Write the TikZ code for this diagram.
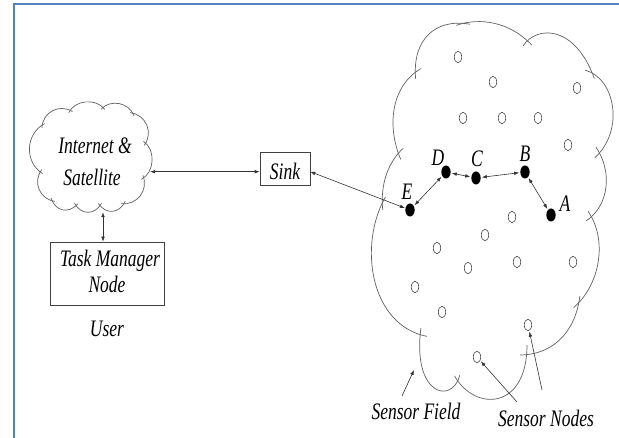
\documentclass[tikz,border=0pt]{standalone}
\usepackage{fontspec}
\setmainfont{Liberation Serif}
\usepackage{graphicx}
\usetikzlibrary{arrows.meta,shapes.geometric,calc}
\definecolor{framec}{RGB}{79,129,189}
% tall, narrow lettering
\newcommand\tallt[1]{\scalebox{1}[1.35]{#1}}
% one puff of a scalloped cloud, from #1 to #2, bulge factor #3
\newcommand\puff[3]{\draw[cloudline,shorten <=-3pt,shorten >=-3pt] (#1) .. controls ($(#1)!#3!60:(#2)$) and ($(#2)!#3!-60:(#1)$) .. (#2);}
% one arc of the sensor field outline
\newcommand\fieldarc[4]{\draw[cloudline,shorten <=-7pt,shorten >=-7pt] #1 .. controls #2 and #3 .. #4;}
\begin{document}
\begin{tikzpicture}[x=1pt,y=-1pt,
  cloudline/.style={draw=black!62, line width=0.7pt},
  tip/.tip={Latex[length=5pt,width=3.6pt]},
  link/.style={draw=black!80, line width=0.6pt, tip-tip},
  pointer/.style={draw=black!80, line width=0.6pt, -tip},
  sensor/.style={ellipse, draw=black!70, line width=0.6pt, minimum width=7.4pt, minimum height=11.5pt, inner sep=0pt},
  relay/.style={ellipse, fill=black, minimum width=9.3pt, minimum height=13pt, inner sep=0pt},
  lbl/.style={font=\fontsize{17.5}{21}\selectfont\itshape, inner sep=0pt, anchor=base},
  boxed/.style={draw=black!75, line width=0.6pt, inner sep=0pt}]
\useasboundingbox (0,0) rectangle (619,438);
\fill[white] (0,0) rectangle (619,438);

% page frame
\draw[framec, line width=2pt] (13.5,438) -- (13.5,3.8) -- (619,3.8);

% ---- Internet & Satellite cloud ----
\coordinate (k1) at (40,172);
\coordinate (k2) at (42,125);
\coordinate (k3) at (70,110);
\coordinate (k4) at (103,107);
\coordinate (k5) at (133,113);
\coordinate (k6) at (146,143);
\coordinate (k7) at (144,178);
\coordinate (k8) at (124,204);
\coordinate (k9) at (100,206);
\coordinate (k10) at (76,206);
\coordinate (k11) at (52,201);
\puff{k1}{k2}{0.4}
\puff{k2}{k3}{0.4}
\puff{k3}{k4}{0.34}
\puff{k4}{k5}{0.36}
\puff{k5}{k6}{0.4}
\puff{k6}{k7}{0.34}
\puff{k7}{k8}{0.4}
\puff{k8}{k9}{0.45}
\puff{k9}{k10}{0.45}
\puff{k10}{k11}{0.45}
\puff{k11}{k1}{0.4}
\node[minimum width=122pt, minimum height=109pt, inner sep=0pt] (inet) at (89,157.5) {};
\node[lbl] at (95,154) {\tallt{Internet \&}};
\node[lbl] at (92,186) {\tallt{Satellite}};

% ---- user side ----
\node[boxed, minimum width=114pt, minimum height=63pt] (tm) at (107,273.5) {};
\node[lbl] at (110,267) {\tallt{Task Manager}};
\node[lbl] at (107,293) {\tallt{Node}};
\node[lbl] at (107,337) {\tallt{User}};

% ---- sink ----
\node[boxed, minimum width=50pt, minimum height=33pt] (sink) at (285,168.5) {};
\node[lbl] at (285,180) {\tallt{Sink}};

% ---- sensor field outline ----
\fieldarc{(415,72)}{(412,40)}{(435,18)}{(463,23)}
\fieldarc{(463,23)}{(480,17)}{(510,22)}{(527,40)}
\fieldarc{(527,40)}{(537,25)}{(575,25)}{(592,72)}
\fieldarc{(592,72)}{(615,78)}{(625,130)}{(600,153)}
\fieldarc{(600,153)}{(612,170)}{(610,205)}{(592,217)}
\fieldarc{(592,217)}{(608,240)}{(600,285)}{(579,303)}
\fieldarc{(579,303)}{(575,335)}{(550,355)}{(527,355)}
\fieldarc{(527,352)}{(527,410)}{(475,412)}{(458,382)}
\fieldarc{(458,382)}{(452,405)}{(412,395)}{(420,335)}
\fieldarc{(420,335)}{(370,325)}{(358,245)}{(382,203)}
\fieldarc{(382,203)}{(380,185)}{(388,162)}{(398,153)}
\fieldarc{(398,153)}{(386,125)}{(392,85)}{(415,72)}

% ---- idle sensor nodes ----
\foreach \n/\x/\y in {1/458/57, 2/493/82, 3/577/88, 4/463/118, 5/502/118,
  6/538/118, 7/568/145, 8/512/217, 9/485/235, 10/437/248, 11/517/262,
  12/573/262, 13/468/268, 14/415/287, 15/442/312, 16/528/325, 17/477/357}
  \node[sensor] (s\n) at (\x,\y) {};

% ---- relay path ----
\node[relay] (E) at (410,210) {};
\node[relay] (D) at (446,172) {};
\node[relay] (C) at (476,178) {};
\node[relay] (B) at (525,172) {};
\node[relay] (A) at (551,215) {};
\node[lbl] at (407,200) {\tallt{E}};
\node[lbl] at (438,166) {\tallt{D}};
\node[lbl] at (477,167) {\tallt{C}};
\node[lbl] at (525,162) {\tallt{B}};
\node[lbl] at (565,212) {\tallt{A}};

% ---- connectors ----
\coordinate (sinkin) at ([yshift=-3.2pt]sink.west);
\coordinate (sinkout) at ([yshift=-3.2pt]sink.east);
\coordinate (tmin) at ([xshift=-4pt]tm.north);
\draw[link] (sinkin -| inet.east) -- (sinkin);
\draw[link] (tmin |- inet.south) -- (tmin);
\draw[link, shorten >=0.5pt] (sinkout) -- (E);
\draw[link, shorten <=1pt, shorten >=1pt] (E) -- (D);
\draw[link, shorten <=1pt, shorten >=1pt] (D) -- (C);
\draw[link, shorten <=1pt, shorten >=1pt] (C) -- (B);
\draw[link, shorten <=1pt, shorten >=1pt] (B) -- (A);

% ---- captions ----
\node[lbl] (sf) at (416,420) {\tallt{Sensor Field}};
\node[lbl] (sn) at (546,427) {\tallt{Sensor Nodes}};
\coordinate (sfTail) at (402,396);
\coordinate (sfHead) at (414,370);
\coordinate (snTailA) at (517,402);
\coordinate (snTailB) at (542,390);
\draw[pointer] (sfTail) -- (sfHead);
\draw[pointer, shorten >=1pt] (snTailA) -- (s17);
\draw[pointer, shorten >=1pt] (snTailB) -- (s16);
\end{tikzpicture}
\end{document}
